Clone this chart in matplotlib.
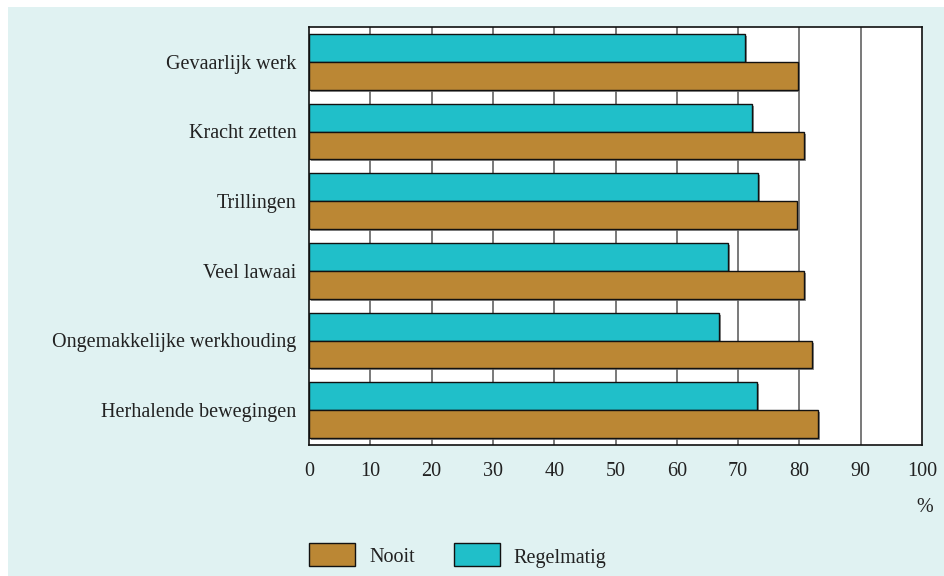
import matplotlib
matplotlib.use("Agg")
import matplotlib.pyplot as plt
import matplotlib.patheffects as pe
from matplotlib.patches import Rectangle
import numpy as np

categories = ["Gevaarlijk werk", "Kracht zetten", "Trillingen", "Veel lawaai",
              "Ongemakkelijke werkhouding", "Herhalende bewegingen"]
nooit = [79.7, 80.8, 79.6, 80.8, 82.0, 83.1]
regelmatig = [71.1, 72.2, 73.2, 68.4, 66.9, 73.1]
xticks = [0, 10, 20, 30, 40, 50, 60, 70, 80, 90, 100]
series_names = ["Nooit", "Regelmatig"]

BROWN = "#BB8734"
TEAL = "#20BFC9"
PANEL = "#E0F2F2"
FONT = "Liberation Serif"
FS = 14.5

W, H = 945, 576
fig = plt.figure(figsize=(W / 100, H / 100), dpi=100)
fig.patch.set_facecolor("white")
fig.add_artist(Rectangle((8 / W, 0), 1 - 8 / W, 1 - 7 / H, transform=fig.transFigure,
                         facecolor=PANEL, edgecolor="none", zorder=0))

ax = fig.add_axes([309 / W, 1 - 445 / H, (922 - 309) / W, (445 - 27) / H])
ax.set_facecolor("white")
ax.set_zorder(1)

y = np.arange(len(categories))
h = 0.4
shadow = [pe.SimplePatchShadow(offset=(1.5, -1.5), shadow_rgbFace="#777777", alpha=0.8), pe.Normal()]
b1 = ax.barh(y - h / 2, regelmatig, height=h, color=TEAL, edgecolor="#111111", linewidth=1, zorder=3)
b2 = ax.barh(y + h / 2, nooit, height=h, color=BROWN, edgecolor="#111111", linewidth=1, zorder=3)
for b in list(b1) + list(b2):
    b.set_path_effects(shadow)

ax.set_xlim(0, 100)
ax.set_ylim(len(categories) - 0.5, -0.5)
ax.set_xticks(xticks)
ax.set_xticklabels([str(t) for t in xticks], fontfamily=FONT, fontsize=FS, color="#222222")
ax.set_yticks(y)
ax.set_yticklabels(categories, fontfamily=FONT, fontsize=FS, color="#222222")
ax.tick_params(axis="both", length=0)
ax.tick_params(axis="x", pad=12)
ax.tick_params(axis="y", pad=9)
for t in xticks[1:-1]:
    ax.axvline(t, color="#555555", linewidth=1.1, zorder=1)
for s in ax.spines.values():
    s.set_color("#111111")
    s.set_linewidth(1.2)

fig.text(925 / W, 1 - 508 / H, "%", ha="center", va="center", fontfamily=FONT,
         fontsize=FS, color="#222222")

# legend
leg = [(309, BROWN, series_names[0], 369), (454, TEAL, series_names[1], 513)]
for x0, col, name, tx in leg:
    fig.add_artist(Rectangle((x0 / W, 1 - 566 / H), 46 / W, 23 / H, transform=fig.transFigure,
                             facecolor=col, edgecolor="#111111", linewidth=1, zorder=2))
    fig.text(tx / W, 1 - 558 / H, name, ha="left", va="center", fontfamily=FONT,
             fontsize=FS, color="#222222")

fig.savefig("out.png", dpi=100)
